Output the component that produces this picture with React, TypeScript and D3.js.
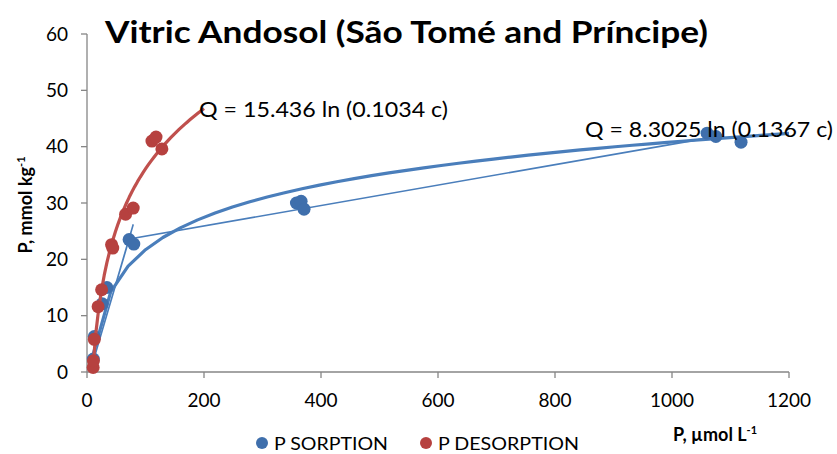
import React from 'react';
import * as d3 from 'd3';

// P sorption / desorption points (c in µmol/L, Q in mmol/kg)
const sorptionC = [10.8, 12.5, 26, 34, 72, 80, 358, 366, 371, 1060, 1075, 1118];
const sorptionQ = [2.3, 6.3, 12.1, 15.0, 23.5, 22.7, 30.0, 30.3, 28.9, 42.4, 41.8, 40.8];
const desorptionC = [10.5, 11, 12.5, 19, 25, 42, 44, 66, 79, 111, 118, 128];
const desorptionQ = [0.8, 2.0, 5.8, 11.6, 14.6, 22.6, 22.0, 28.0, 29.1, 41.0, 41.7, 39.6];

// thin straight line joining the sorption points in sheet order
const linkC = [72, 12, 79, 72, 1070];
const linkQ = [23.6, 2.4, 26.2, 23.6, 41.7];

// log fits Q = a ln(b c)
const sorptionFit = { a: 8.3025, b: 0.1367, from: 10.8, to: 1200 };
const desorptionFit = { a: 15.436, b: 0.1034, from: 10.5, to: 200 };

const xTicks = [0, 200, 400, 600, 800, 1000, 1200];
const yTicks = [0, 10, 20, 30, 40, 50, 60];

const BLUE = '#4a7ebb';
const BLUE_DOT = '#3f6fac';
const RED = '#c0504d';
const RED_DOT = '#b6413f';
const FONT = 'Lato, "Open Sans", "Liberation Sans", sans-serif';

const width = 837;
const height = 454;

const App = () => {
    const x = d3.scaleLinear().domain([0, 1200]).range([87, 789]);
    const y = d3.scaleLinear().domain([0, 60]).range([372, 34]);

    // Excel samples its trendlines coarsely, so keep a modest number of points
    const fitLine = (f) => {
        const cs = d3.range(0, 41).map(i => f.from + (f.to - f.from) * i / 40);
        return d3.line()
            .x(c => x(c))
            .y(c => y(f.a * Math.log(f.b * c)))(cs);
    };

    const link = d3.line()
        .x(d => x(d[0]))
        .y(d => y(d[1]))(d3.zip(linkC, linkQ));

    const sorption = d3.zip(sorptionC, sorptionQ);
    const desorption = d3.zip(desorptionC, desorptionQ);

    return (
        <svg width={width} height={height} style={{ position: 'absolute', left: 0, top: 0, background: '#fff' }}
            fontFamily={FONT}>
            {/* title */}
            <text x={105} y={43} fontSize={30} fontWeight="bold" textLength={603} lengthAdjust="spacingAndGlyphs">
                Vitric Andosol (São Tomé and Príncipe)
            </text>

            {/* axes */}
            <line x1={87} x2={87} y1={y(60)} y2={y(0)} stroke="#868686" strokeWidth={1.3} />
            <line x1={87} x2={x(1200)} y1={y(0)} y2={y(0)} stroke="#868686" strokeWidth={1.3} />
            {yTicks.map(t => (
                <g key={'y' + t}>
                    <line x1={81} x2={87} y1={y(t)} y2={y(t)} stroke="#868686" strokeWidth={1.3} />
                    <text x={68} y={y(t) + 6.5} fontSize={19} textAnchor="end" fill="#000">{t}</text>
                </g>
            ))}
            {xTicks.map(t => (
                <g key={'x' + t}>
                    <line x1={x(t)} x2={x(t)} y1={372} y2={378} stroke="#868686" strokeWidth={1.3} />
                    <text x={x(t)} y={407} fontSize={19} textAnchor="middle" fill="#000">{t}</text>
                </g>
            ))}

            {/* axis titles */}
            <text transform="translate(32,205) rotate(-90)" fontSize={18} fontWeight="bold" textAnchor="middle">
                P, mmol kg<tspan fontSize={11} dy={-7}>-1</tspan>
            </text>
            <text x={673} y={441} fontSize={18} fontWeight="bold">
                P, µmol L<tspan fontSize={11} dy={-7}>-1</tspan>
            </text>

            {/* sorption */}
            <path d={link} fill="none" stroke={BLUE} strokeWidth={1.6} />
            <path d={fitLine(sorptionFit)} fill="none" stroke={BLUE} strokeWidth={3.2} strokeLinejoin="round" />
            {sorption.map((d, i) => (
                <circle key={'s' + i} cx={x(d[0])} cy={y(d[1])} r={6.5} fill={BLUE_DOT} />
            ))}

            {/* desorption */}
            <path d={fitLine(desorptionFit)} fill="none" stroke={RED} strokeWidth={3.2} strokeLinejoin="round" />
            {desorption.map((d, i) => (
                <circle key={'d' + i} cx={x(d[0])} cy={y(d[1])} r={6.5} fill={RED_DOT} />
            ))}

            {/* equations */}
            <text x={199} y={117} fontSize={21} textLength={249} lengthAdjust="spacingAndGlyphs">
                Q = 15.436 ln (0.1034 c)
            </text>
            <text x={585} y={137} fontSize={21} textLength={248} lengthAdjust="spacingAndGlyphs">
                Q = 8.3025 ln (0.1367 c)
            </text>

            {/* legend */}
            <circle cx={262} cy={443} r={6} fill={BLUE_DOT} />
            <text x={274} y={450} fontSize={18} textLength={114} lengthAdjust="spacingAndGlyphs">P SORPTION</text>
            <circle cx={426} cy={443} r={6} fill={RED_DOT} />
            <text x={438} y={450} fontSize={18} textLength={141} lengthAdjust="spacingAndGlyphs">P DESORPTION</text>
        </svg>
    );
};

export default App;
